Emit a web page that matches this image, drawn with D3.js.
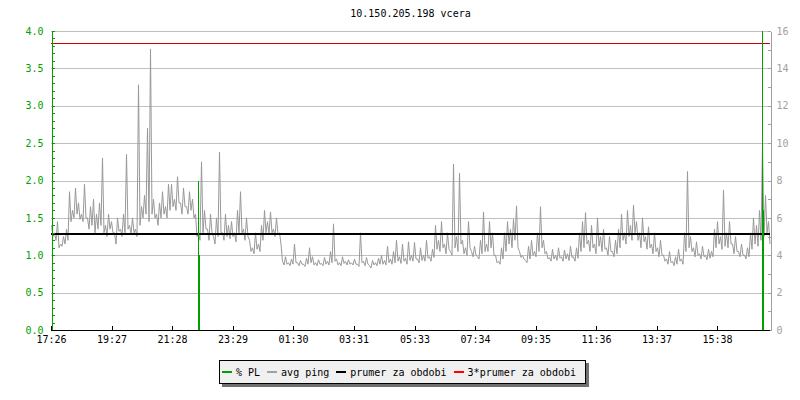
<!DOCTYPE html>
<html lang="en">
<head>
<meta charset="UTF-8">
<title>10.150.205.198 vcera</title>
<script src="https://d3js.org/d3.v7.min.js"></script>
<style>
    body { margin: 0; background: #fff; }
    svg text { font-family: "DejaVu Sans Mono", monospace; font-size: 10px; }
</style>
</head>
<body>
<script>
// ---- data ----
const title = "10.150.205.198 vcera";
const startTime = "17:26";          // first sample / left edge
const sampleStepMin = 6;            // one sample every 6 minutes
const xTickLabels = ["17:26", "19:27", "21:28", "23:29", "01:30", "03:31",
                     "05:33", "07:34", "09:35", "11:36", "13:37", "15:38"];

// avg ping, upper value of each 6-minute slot (left axis units)
const pingHigh = [
    1.40, 1.30, 1.45, 1.15, 1.25, 1.35, 1.85, 1.60, 1.90, 1.70,
    1.55, 1.95, 1.50, 1.65, 1.75, 1.55, 1.70, 2.30, 1.40, 1.55,
    1.45, 1.30, 1.50, 1.35, 1.55, 2.35, 1.40, 1.50, 1.35, 3.28,
    1.65, 1.80, 2.70, 3.76, 1.75, 1.55, 1.70, 1.85, 1.65, 1.95,
    1.95, 1.75, 2.05, 1.70, 1.90, 1.65, 1.85, 1.75, 1.55, 1.30,
    2.25, 1.60, 1.35, 1.55, 1.25, 1.50, 2.38, 1.30, 1.55, 1.40,
    1.45, 1.30, 1.60, 1.85, 1.35, 1.50, 1.20, 1.10, 1.30, 1.15,
    1.40, 1.60, 1.45, 1.58, 1.35, 1.50, 1.30, 0.92, 0.98, 0.90,
    0.95, 1.15, 0.90, 0.93, 0.88, 0.96, 1.10, 0.98, 0.90, 0.94,
    0.89, 0.97, 0.92, 1.05, 1.42, 0.95, 0.90, 0.98, 0.92, 0.94,
    0.90, 0.95, 0.88, 1.30, 0.92, 0.97, 0.86, 0.93, 0.90, 0.96,
    1.00, 0.93, 1.12, 0.95, 1.05, 1.20, 0.98, 1.15, 0.96, 1.18,
    1.00, 1.17, 0.95, 1.10, 1.00, 1.20, 0.98, 1.08, 1.40, 1.20,
    1.45, 1.15, 1.30, 1.05, 2.22, 1.25, 2.10, 1.20, 1.10, 1.45,
    1.05, 1.12, 0.98, 1.20, 1.58, 1.15, 1.45, 1.30, 1.00, 0.92,
    1.10, 1.30, 1.45, 1.35, 1.48, 1.66, 1.05, 1.00, 0.93, 1.12,
    1.20, 1.05, 1.30, 1.65, 1.20, 1.05, 0.97, 1.08, 1.00, 1.10,
    0.98, 1.07, 1.02, 1.12, 0.98, 1.10, 1.30, 1.45, 1.57, 1.20,
    1.40, 1.15, 1.50, 1.25, 1.35, 1.10, 1.25, 1.05, 1.20, 1.35,
    1.55, 1.30, 1.60, 1.40, 1.67, 1.45, 1.30, 1.50, 1.25, 1.38,
    1.15, 1.30, 1.10, 1.20, 1.00, 0.95, 1.05, 0.92, 0.98, 1.08,
    0.95, 1.30, 2.12, 1.25, 1.10, 1.18, 1.02, 1.12, 1.00, 1.08,
    1.05, 1.35, 1.45, 1.25, 1.87, 1.30, 1.45, 1.15, 1.25, 1.05,
    1.15, 1.00, 1.10, 1.30, 1.50, 1.40, 1.60, 2.50, 1.80, 1.45
];

// avg ping, lower value of each 6-minute slot
const pingLow = [
    1.25, 1.20, 1.10, 1.12, 1.15, 1.20, 1.45, 1.50, 1.55, 1.48,
    1.45, 1.50, 1.35, 1.40, 1.30, 1.35, 1.40, 1.30, 1.25, 1.35,
    1.30, 1.15, 1.32, 1.25, 1.30, 1.35, 1.28, 1.30, 1.25, 1.40,
    1.50, 1.55, 1.45, 1.55, 1.50, 1.40, 1.50, 1.55, 1.50, 1.60,
    1.65, 1.60, 1.70, 1.55, 1.65, 1.55, 1.60, 1.50, 1.25, 1.20,
    1.30, 1.35, 1.20, 1.30, 1.15, 1.25, 1.30, 1.20, 1.25, 1.22,
    1.25, 1.18, 1.30, 1.30, 1.20, 1.25, 1.05, 1.02, 1.08, 1.05,
    1.20, 1.30, 1.28, 1.30, 1.25, 1.28, 1.15, 0.87, 0.88, 0.86,
    0.88, 0.90, 0.86, 0.88, 0.85, 0.88, 0.90, 0.87, 0.86, 0.88,
    0.86, 0.88, 0.87, 0.90, 0.92, 0.87, 0.86, 0.89, 0.87, 0.88,
    0.87, 0.88, 0.85, 0.90, 0.86, 0.88, 0.83, 0.87, 0.86, 0.88,
    0.88, 0.87, 0.90, 0.88, 0.90, 0.92, 0.89, 0.92, 0.88, 0.93,
    0.92, 0.95, 0.90, 0.93, 0.92, 0.96, 0.92, 0.97, 1.08, 1.05,
    1.10, 1.02, 1.08, 1.00, 1.10, 1.05, 1.15, 1.02, 1.00, 1.10,
    0.98, 1.00, 0.95, 1.02, 1.05, 1.05, 1.10, 1.00, 0.90, 0.88,
    0.95, 1.05, 1.15, 1.10, 1.20, 1.10, 0.97, 0.95, 0.90, 0.95,
    1.00, 0.98, 1.05, 1.10, 1.02, 0.95, 0.92, 0.95, 0.93, 0.96,
    0.92, 0.95, 0.93, 0.97, 0.92, 0.96, 1.05, 1.10, 1.15, 1.05,
    1.10, 1.02, 1.12, 1.05, 1.08, 1.00, 1.05, 0.98, 1.02, 1.10,
    1.20, 1.15, 1.25, 1.20, 1.30, 1.20, 1.10, 1.18, 1.08, 1.10,
    1.02, 1.05, 0.98, 1.00, 0.92, 0.88, 0.90, 0.86, 0.88, 0.92,
    0.88, 1.05, 1.10, 1.05, 0.98, 1.00, 0.95, 0.98, 0.94, 0.96,
    0.98, 1.10, 1.15, 1.08, 1.12, 1.10, 1.15, 1.02, 1.05, 0.98,
    1.00, 0.95, 0.98, 1.08, 1.15, 1.12, 1.20, 1.25, 1.30, 1.15
];

const avgPing = 1.278;              // prumer za obdobi
const avgMultiplier = 3;            // 3*prumer za obdobi

// packet loss events
const plTimes = ["22:19", "17:07"];
const plValues = [1.0, 1.6];
const plPeaks = [2.0, 4.0];

const legendLabels = ["% PL", "avg ping", "prumer za obdobi", "3*prumer za obdobi"];
const legendColors = ["#00a000", "#a0a0a0", "#000000", "#ff0000"];

// ---- layout ----
const W = 800, H = 400;
const plot = { left: 51, right: 770, top: 31, bottom: 330 };

const toMin = s => { const [h, m] = s.split(":").map(Number); return h * 60 + m; };
const start = toMin(startTime);
const sinceStart = s => { let d = toMin(s) - start; if (d < 0) d += 1440; return d; };

const x = d3.scaleLinear().domain([0, 1440]).range([plot.left, plot.left + 720]);
const y = d3.scaleLinear().domain([0, 4]).range([plot.bottom, plot.top]);
const yR = d3.scaleLinear().domain([0, 16]).range([plot.bottom, plot.top]);

const svg = d3.select("body").append("svg")
    .attr("width", W).attr("height", H);

// title
svg.append("text")
    .attr("x", (plot.left + plot.right) / 2).attr("y", 17)
    .attr("text-anchor", "middle")
    .text(title);

// horizontal gridlines
svg.append("g")
    .selectAll("line")
    .data(d3.range(1, 9).map(i => i * 0.5))
    .join("line")
    .attr("x1", plot.left).attr("x2", plot.right)
    .attr("y1", d => Math.round(y(d)) + 0.5).attr("y2", d => Math.round(y(d)) + 0.5)
    .attr("stroke", "#c0c0c0")
    .attr("shape-rendering", "crispEdges");

// avg ping line: each slot goes up to its high value, then down to its low value
const pingData = [];
pingHigh.forEach((v, i) => {
    const t = i * sampleStepMin;
    pingData.push({ t, v });
    pingData.push({ t: t + sampleStepMin / 2, v: pingLow[i] });
});
svg.append("path")
    .datum(pingData)
    .attr("fill", "none")
    .attr("stroke", "#999999")
    .attr("stroke-width", 1)
    .attr("d", d3.line().x(d => x(d.t) + 0.5).y(d => y(d.v)));

// average and 3*average
svg.append("line")
    .attr("x1", plot.left).attr("x2", plot.right)
    .attr("y1", Math.round(y(avgPing))).attr("y2", Math.round(y(avgPing)))
    .attr("stroke", "#000").attr("stroke-width", 2)
    .attr("shape-rendering", "crispEdges");

svg.append("line")
    .attr("x1", plot.left).attr("x2", plot.right)
    .attr("y1", Math.round(y(avgPing * avgMultiplier)) + 0.5)
    .attr("y2", Math.round(y(avgPing * avgMultiplier)) + 0.5)
    .attr("stroke", "#d00000").attr("stroke-width", 1)
    .attr("shape-rendering", "crispEdges");

// packet loss
const plData = plTimes.map((t, i) => ({ t: sinceStart(t), v: plValues[i], peak: plPeaks[i] }));
const pl = svg.append("g").attr("shape-rendering", "crispEdges");
pl.selectAll(".thin").data(plData).join("line")
    .attr("x1", d => Math.round(x(d.t)) + 0.5).attr("x2", d => Math.round(x(d.t)) + 0.5)
    .attr("y1", plot.bottom).attr("y2", d => y(d.peak))
    .attr("stroke", "#00a000").attr("stroke-width", 1);
pl.selectAll(".thick").data(plData).join("line")
    .attr("x1", d => Math.round(x(d.t)) + 1).attr("x2", d => Math.round(x(d.t)) + 1)
    .attr("y1", plot.bottom).attr("y2", d => y(d.v))
    .attr("stroke", "#00a000").attr("stroke-width", 2);

// left axis (green), ticks point inward
const green = "#00a000";
const leftMinor = svg.append("g")
    .attr("transform", `translate(${plot.left + 0.5},0)`)
    .call(d3.axisLeft(y).tickValues(d3.range(0, 41).map(i => i / 10))
        .tickSizeInner(-3).tickSizeOuter(0).tickFormat(""));
const leftMajor = svg.append("g")
    .attr("transform", `translate(${plot.left + 0.5},0)`)
    .call(d3.axisLeft(y).tickValues(d3.range(0, 9).map(i => i / 2))
        .tickSizeInner(-3).tickSizeOuter(0).tickPadding(8).tickFormat(d3.format(".1f")));
[leftMinor, leftMajor].forEach(g => {
    g.selectAll("path, line").attr("stroke", green).attr("shape-rendering", "crispEdges");
    g.selectAll("text").attr("fill", green).style("font-size", "10px").style("font-family", "DejaVu Sans Mono, monospace");
});

// right axis (gray)
const rightAxis = svg.append("g")
    .attr("transform", `translate(${plot.right + 0.5},0)`)
    .call(d3.axisRight(yR).tickValues(d3.range(0, 17))
        .tickSizeInner(-3).tickSizeOuter(0).tickPadding(6)
        .tickFormat(d => d % 2 === 0 ? d : ""));
rightAxis.selectAll("path, line").attr("stroke", "#a0a0a0").attr("shape-rendering", "crispEdges");
rightAxis.selectAll("text").attr("fill", "#a0a0a0").style("font-size", "10px").style("font-family", "DejaVu Sans Mono, monospace");

// bottom axis
const bottomAxis = svg.append("g")
    .attr("transform", `translate(0,${plot.bottom + 0.5})`)
    .call(d3.axisBottom(x).tickValues(xTickLabels.map(sinceStart))
        .tickSizeInner(-5).tickSizeOuter(0).tickPadding(5)
        .tickFormat((d, i) => xTickLabels[i]));
bottomAxis.select(".domain").attr("d", `M${plot.left},0H${plot.right}`);
bottomAxis.selectAll("path, line").attr("stroke", "#000").attr("shape-rendering", "crispEdges");
bottomAxis.selectAll("text").attr("fill", "#000").style("font-size", "10px").style("font-family", "DejaVu Sans Mono, monospace");

// legend
const legend = svg.append("g");
const boxX = 219, boxY = 360, boxH = 23;
const shadow = legend.append("rect").attr("fill", "#707070");
const box = legend.append("rect").attr("fill", "#f0f0f0").attr("stroke", "#000")
    .attr("shape-rendering", "crispEdges");
let cx = boxX + 3;
legendLabels.forEach((label, i) => {
    legend.append("line")
        .attr("x1", cx).attr("x2", cx + 10)
        .attr("y1", boxY + 12).attr("y2", boxY + 12)
        .attr("stroke", legendColors[i]).attr("stroke-width", 2)
        .attr("shape-rendering", "crispEdges");
    const t = legend.append("text")
        .attr("x", cx + 14).attr("y", boxY + 16)
        .text(label);
    cx += 14 + t.node().getComputedTextLength() + 7;
});
const boxW = cx - boxX + 2;
box.attr("x", boxX + 0.5).attr("y", boxY + 0.5).attr("width", boxW).attr("height", boxH);
shadow.attr("x", boxX + 3).attr("y", boxY + 3).attr("width", boxW + 1).attr("height", boxH + 1);
</script>
</body>
</html>
